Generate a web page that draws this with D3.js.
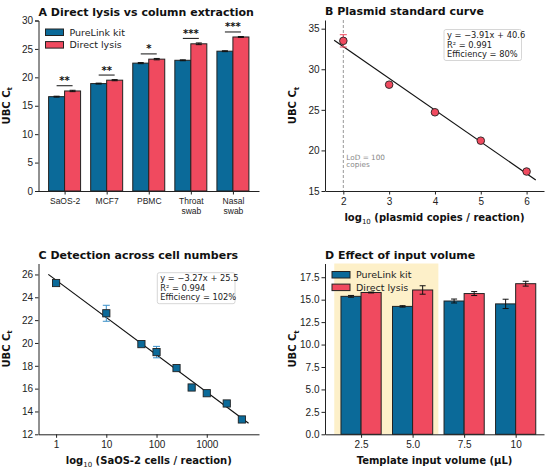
<!DOCTYPE html>
<html>
<head>
<meta charset="utf-8">
<script src="https://cdn.jsdelivr.net/npm/d3@7"></script>
<style>
  body { margin: 0; background: #fff; }
  svg { font-family: "DejaVu Sans", sans-serif; display: block; }
  .axis text { font-size: 10px; fill: #222; }
  .axis path, .axis line { stroke: #222; stroke-width: 1; }
</style>
</head>
<body>
<svg id="chart" width="550" height="469"></svg>
<script>
// panel A
var categoriesA = ["SaOS-2", "MCF7", "PBMC", "Throat|swab", "Nasal|swab"];
var pureA = [16.6, 18.9, 22.5, 23.0, 24.6];
var pureAErr = [0.08, 0.08, 0.1, 0.08, 0.08];
var directA = [17.6, 19.5, 23.2, 25.9, 27.1];
var directAErr = [0.12, 0.1, 0.12, 0.15, 0.08];
var sigA = ["**", "**", "*", "***", "***"];

// panel B
var plasmidLog = [2, 3, 4, 5, 6];
var plasmidCt = [33.5, 28.1, 24.7, 21.2, 17.4];
var plasmidErr = [0.76, 0.1, 0.1, 0.1, 0.1];
var fitB = {slope: -3.91, intercept: 40.6};
var boxB = ["y = \u22123.91x + 40.6", "R\u00b2 = 0.991", "Efficiency = 80%"];

// panel C
var cells = [1, 10, 50, 100, 250, 500, 1000, 2500, 5000];
var cellsCt = [25.25, 22.6, 19.9, 19.2, 17.8, 16.1, 15.6, 14.7, 13.3];
var cellsErr = [0.12, 0.7, 0.1, 0.5, 0.1, 0.12, 0.1, 0.1, 0.1];
var fitC = {slope: -3.27, intercept: 25.5};
var boxC = ["y = \u22123.27x + 25.5", "R\u00b2 = 0.994", "Efficiency = 102%"];

// panel D
var volumes = ["2.5", "5.0", "7.5", "10"];
var pureD = [15.37, 14.25, 14.85, 14.53];
var pureDErr = [0.1, 0.08, 0.22, 0.52];
var directD = [15.8, 16.08, 15.68, 16.78];
var directDErr = [0.05, 0.47, 0.22, 0.27];

var blue = "#0b6a99", red = "#f04a5f", edge = "#222";
var svg = d3.select("#chart");
svg.append("rect").attr("width", 550).attr("height", 469).attr("fill", "#fff");

function panel(box) {
  var g = svg.append("g").attr("transform", "translate(" + box.left + "," + box.top + ")");
  g.w = box.right - box.left;
  g.h = box.bottom - box.top;
  return g;
}

function title(g, letter, txt) {
  g.append("text").attr("x", 0).attr("y", -5)
    .style("font-size", "11px").style("font-weight", "bold").attr("fill", "#111")
    .text(letter + "  " + txt);
}

function yLabel(g, dx) {
  var t = g.append("text")
    .attr("transform", "translate(" + dx + "," + (g.h / 2) + ") rotate(-90)")
    .attr("text-anchor", "middle")
    .style("font-size", "10px").style("font-weight", "bold").attr("fill", "#111");
  t.append("tspan").text("UBC C");
  t.append("tspan").attr("dy", 2.5).style("font-size", "7px").text("t");
}

function xLabel(g, dy, parts) {
  var t = g.append("text").attr("x", g.w / 2).attr("y", g.h + dy)
    .attr("text-anchor", "middle")
    .style("font-size", "10px").style("font-weight", "bold").attr("fill", "#111");
  parts.forEach(function(p) {
    var s = t.append("tspan").text(p.t);
    if (p.sub) s.attr("dy", 2.5).style("font-size", "7px").style("font-weight", "normal");
    if (p.back) s.attr("dy", -2.5);
  });
}

function statBox(g, x, y, w, lines) {
  g.append("rect").attr("x", x).attr("y", y).attr("width", w).attr("height", 31)
    .attr("rx", 2).attr("fill", "#fff").attr("fill-opacity", 0.85)
    .attr("stroke", "#ccc").attr("stroke-width", 0.8);
  lines.forEach(function(l, i) {
    g.append("text").attr("x", x + 3).attr("y", y + 8.5 + i * 9.5)
      .style("font-size", "8.3px").attr("fill", "#222").text(l);
  });
}

function errBars(g, data, xf, yf, cap, color) {
  var e = g.append("g").attr("stroke", color).attr("stroke-width", 1);
  data.forEach(function(d) {
    var x = xf(d), y0 = yf(d.v - d.e), y1 = yf(d.v + d.e);
    e.append("line").attr("x1", x).attr("x2", x).attr("y1", y0).attr("y2", y1);
    e.append("line").attr("x1", x - cap).attr("x2", x + cap).attr("y1", y0).attr("y2", y0);
    e.append("line").attr("x1", x - cap).attr("x2", x + cap).attr("y1", y1).attr("y2", y1);
  });
}

function legend(g, x, y) {
  [["PureLink kit", blue], ["Direct lysis", red]].forEach(function(l, i) {
    g.append("rect").attr("x", x).attr("y", y + i * 12.6 - 3).attr("width", 18).attr("height", 6.5)
      .attr("fill", l[1]).attr("stroke", edge).attr("stroke-width", 1);
    g.append("text").attr("x", x + 24).attr("y", y + i * 12.6 + 3.5)
      .style("font-size", "9.5px").attr("fill", "#222").text(l[0]);
  });
}

function groupedBars(g, x, y, pure, pureErr, direct, directErr, bw) {
  var rows = [];
  pure.forEach(function(v, i) {
    rows.push({i: i, off: -bw / 2, v: v, e: pureErr[i], c: blue});
    rows.push({i: i, off: bw / 2, v: direct[i], e: directErr[i], c: red});
  });
  g.selectAll(".bar").data(rows).enter().append("rect")
    .attr("x", function(d) { return x(d.i + d.off - bw / 2); })
    .attr("y", function(d) { return y(d.v); })
    .attr("width", x(bw) - x(0))
    .attr("height", function(d) { return y(0) - y(d.v); })
    .attr("fill", function(d) { return d.c; })
    .attr("stroke", edge).attr("stroke-width", 1);
  errBars(g, rows, function(d) { return x(d.i + d.off); }, y, 3, "#111");
  return rows;
}

// ---------- A ----------
var gA = panel({left: 38.5, right: 259, top: 20.5, bottom: 191});
var xA = d3.scaleLinear().domain([-0.62, 4.62]).range([0, gA.w]);
var yA = d3.scaleLinear().domain([0, 30]).range([gA.h, 0]);
var bwA = 0.38;
groupedBars(gA, xA, yA, pureA, pureAErr, directA, directAErr, bwA);
sigA.forEach(function(s, i) {
  var top = Math.max(pureA[i] + pureAErr[i], directA[i] + directAErr[i]) + 0.8;
  gA.append("line").attr("x1", xA(i - bwA / 2)).attr("x2", xA(i + bwA / 2))
    .attr("y1", yA(top)).attr("y2", yA(top)).attr("stroke", "#111").attr("stroke-width", 1);
  gA.append("text").attr("x", xA(i)).attr("y", yA(top) - 1.5).attr("text-anchor", "middle")
    .style("font-size", "10px").style("font-weight", "bold").attr("fill", "#111").text(s);
});
gA.append("g").attr("class", "axis").call(d3.axisLeft(yA).ticks(6).tickSize(3.5).tickPadding(2));
var axA = gA.append("g").attr("class", "axis").attr("transform", "translate(0," + gA.h + ")")
  .call(d3.axisBottom(xA).tickValues(d3.range(categoriesA.length)).tickSize(3.5).tickSizeOuter(0)
    .tickFormat(function(i) { return ""; }));
axA.selectAll(".tick text").each(function(i) {
  var t = d3.select(this).style("font-size", "8.5px");
  categoriesA[i].split("|").forEach(function(p, k) {
    t.append("tspan").attr("x", 0).attr("dy", k === 0 ? "0.71em" : "1.2em").text(p);
  });
});
yLabel(gA, -29);
legend(gA, 7, 11.5);
title(gA, "A", "Direct lysis vs column extraction");

// ---------- B ----------
var gB = panel({left: 325, right: 544, top: 20, bottom: 191});
var xB = d3.scaleLinear().domain([1.6, 6.38]).range([0, gB.w]);
var yB = d3.scaleLinear().domain([15, 36.07]).range([gB.h, 0]);
gB.append("line").attr("x1", xB(2)).attr("x2", xB(2)).attr("y1", 0).attr("y2", gB.h)
  .attr("stroke", "#999").attr("stroke-width", 1).attr("stroke-dasharray", "3,2");
gB.append("text").attr("x", xB(2) + 3).attr("y", yB(18.88)).style("font-size", "7.3px").attr("fill", "#888").text("LoD = 100");
gB.append("text").attr("x", xB(2) + 3).attr("y", yB(17.96)).style("font-size", "7.3px").attr("fill", "#888").text("copies");
gB.append("path")
  .attr("d", d3.line().x(function(d) { return xB(d); }).y(function(d) { return yB(fitB.slope * d + fitB.intercept); })([1.8, 6.2]))
  .attr("stroke", "#111").attr("stroke-width", 1.2).attr("fill", "none");
var ptsB = plasmidLog.map(function(x, i) { return {x: x, v: plasmidCt[i], e: plasmidErr[i]}; });
errBars(gB, ptsB, function(d) { return xB(d.x); }, yB, 3.5, red);
gB.selectAll(".pt").data(ptsB).enter().append("circle")
  .attr("cx", function(d) { return xB(d.x); }).attr("cy", function(d) { return yB(d.v); })
  .attr("r", 3.8).attr("fill", red).attr("stroke", edge).attr("stroke-width", 0.9);
gB.append("g").attr("class", "axis").call(d3.axisLeft(yB).tickValues([15, 20, 25, 30, 35]).tickSize(3.5).tickPadding(2).tickSizeOuter(0));
gB.append("g").attr("class", "axis").attr("transform", "translate(0," + gB.h + ")")
  .call(d3.axisBottom(xB).tickValues(plasmidLog).tickSize(3.5).tickSizeOuter(0).tickFormat(d3.format("d")));
statBox(gB, 119, 9.5, 77.5, boxB);
yLabel(gB, -29);
xLabel(gB, 30, [{t: "log"}, {t: "10", sub: true}, {t: " (plasmid copies / reaction)", back: true}]);
title(gB, "B", "Plasmid standard curve");

// ---------- C ----------
var gC = panel({left: 38.5, right: 259, top: 263.5, bottom: 434.3});
var xC = d3.scaleLog().domain([Math.pow(10, -0.35), Math.pow(10, 4.04)]).range([0, gC.w]);
var yC = d3.scaleLinear().domain([12, 26.96]).range([gC.h, 0]);
gC.append("path")
  .attr("d", d3.line().x(function(d) { return xC(d); }).y(function(d) { return yC(fitC.slope * Math.log10(d) + fitC.intercept); })([0.7, 6800]))
  .attr("stroke", "#111").attr("stroke-width", 1.2).attr("fill", "none");
var ptsC = cells.map(function(x, i) { return {x: x, v: cellsCt[i], e: cellsErr[i]}; });
errBars(gC, ptsC, function(d) { return xC(d.x); }, yC, 3.5, "#3a8fc8");
gC.selectAll(".sq").data(ptsC).enter().append("rect")
  .attr("x", function(d) { return xC(d.x) - 3.6; }).attr("y", function(d) { return yC(d.v) - 3.6; })
  .attr("width", 7.2).attr("height", 7.2)
  .attr("fill", blue).attr("stroke", edge).attr("stroke-width", 0.9);
gC.append("g").attr("class", "axis").call(d3.axisLeft(yC).tickValues(d3.range(12, 27, 2)).tickSize(3.5).tickPadding(2).tickSizeOuter(0));
gC.append("g").attr("class", "axis").attr("transform", "translate(0," + gC.h + ")")
  .call(d3.axisBottom(xC).tickValues([1, 10, 100, 1000]).tickSize(3.5).tickSizeOuter(0).tickFormat(d3.format("d")));
statBox(gC, 118.8, 9.2, 77.7, boxC);
yLabel(gC, -29);
xLabel(gC, 30, [{t: "log"}, {t: "10", sub: true}, {t: " (SaOS-2 cells / reaction)", back: true}]);
title(gC, "C", "Detection across cell numbers");

// ---------- D ----------
var gD = panel({left: 325, right: 544, top: 263.5, bottom: 434.3});
var xD = d3.scaleLinear().domain([-0.7, 3.55]).range([0, gD.w]);
var yD = d3.scaleLinear().domain([0, 19.03]).range([gD.h, 0]);
gD.append("rect").attr("x", xD(-0.52)).attr("width", xD(1.5) - xD(-0.52))
  .attr("y", 0).attr("height", gD.h).attr("fill", "#fdf0c9");
groupedBars(gD, xD, yD, pureD, pureDErr, directD, directDErr, 0.39);
gD.append("g").attr("class", "axis").call(d3.axisLeft(yD).tickValues(d3.range(0, 18, 2.5)).tickSize(3.5).tickPadding(2).tickSizeOuter(0).tickFormat(d3.format(".1f")));
gD.append("g").attr("class", "axis").attr("transform", "translate(0," + gD.h + ")")
  .call(d3.axisBottom(xD).tickValues(d3.range(volumes.length)).tickSize(3.5).tickSizeOuter(0)
    .tickFormat(function(i) { return volumes[i]; }));
legend(gD, 7, 11);
yLabel(gD, -29);
xLabel(gD, 30, [{t: "Template input volume (\u00b5L)"}]);
title(gD, "D", "Effect of input volume");
</script>
</body>
</html>
